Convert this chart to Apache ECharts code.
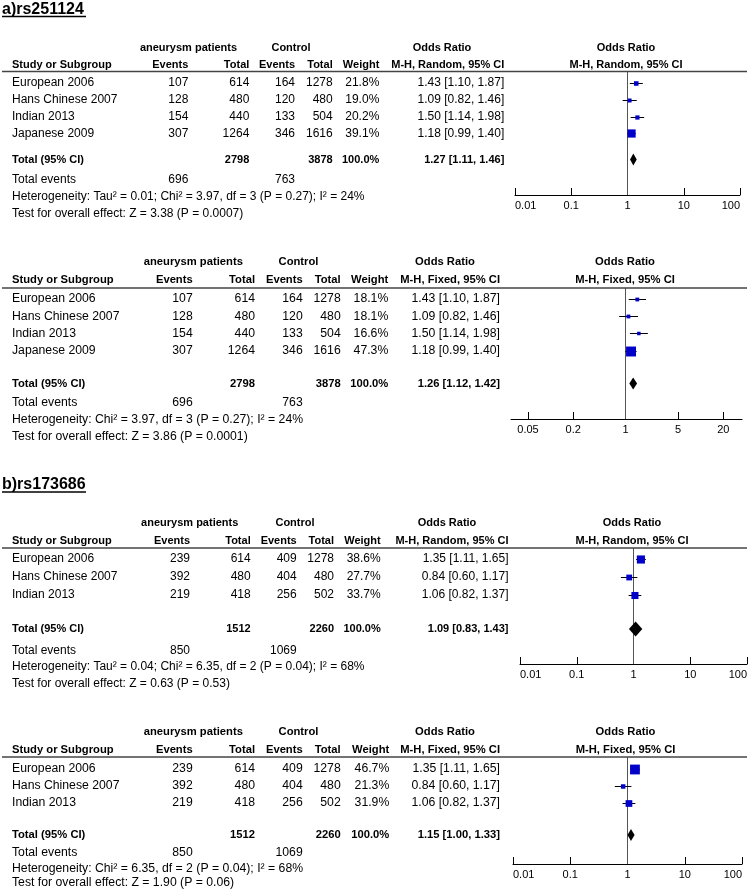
<!DOCTYPE html>
<html><head><meta charset="utf-8">
<script src="https://cdn.jsdelivr.net/npm/echarts@6/dist/echarts.min.js"></script>
<style>html,body{margin:0;padding:0;background:#fff}#c{width:753px;height:891px}</style>
</head><body><div id="c"></div>
<script>
// ---------- data ----------
const studiesA = ['European 2006', 'Hans Chinese 2007', 'Indian 2013', 'Japanese 2009'];
const casesEventsA = [107, 128, 154, 307];
const casesTotalA = [614, 480, 440, 1264];
const controlEventsA = [164, 120, 133, 346];
const controlTotalA = [1278, 480, 504, 1616];
const oddsA = [1.43, 1.09, 1.50, 1.18];
const lowerA = [1.10, 0.82, 1.14, 0.99];
const upperA = [1.87, 1.46, 1.98, 1.40];
const weightRandomA = [21.8, 19.0, 20.2, 39.1];
const weightFixedA = [18.1, 18.1, 16.6, 47.3];
const pooledRandomA = [1.27, 1.11, 1.46];
const pooledFixedA = [1.26, 1.12, 1.42];
const totalsA = [2798, 3878];
const totalEventsA = [696, 763];

const studiesB = ['European 2006', 'Hans Chinese 2007', 'Indian 2013'];
const casesEventsB = [239, 392, 219];
const casesTotalB = [614, 480, 418];
const controlEventsB = [409, 404, 256];
const controlTotalB = [1278, 480, 502];
const oddsB = [1.35, 0.84, 1.06];
const lowerB = [1.11, 0.60, 0.82];
const upperB = [1.65, 1.17, 1.37];
const weightRandomB = [38.6, 27.7, 33.7];
const weightFixedB = [46.7, 21.3, 31.9];
const pooledRandomB = [1.09, 0.83, 1.43];
const pooledFixedB = [1.15, 1.00, 1.33];
const totalsB = [1512, 2260];
const totalEventsB = [850, 1069];

const ticksWide = [0.01, 0.1, 1, 10, 100];
const ticksNarrow = [0.05, 0.2, 1, 5, 20];

const hetTexts = [
  'Heterogeneity: Tau\u00b2 = 0.01; Chi\u00b2 = 3.97, df = 3 (P = 0.27); I\u00b2 = 24%',
  'Heterogeneity: Chi\u00b2 = 3.97, df = 3 (P = 0.27); I\u00b2 = 24%',
  'Heterogeneity: Tau\u00b2 = 0.04; Chi\u00b2 = 6.35, df = 2 (P = 0.04); I\u00b2 = 68%',
  'Heterogeneity: Chi\u00b2 = 6.35, df = 2 (P = 0.04); I\u00b2 = 68%'
];
const testTexts = [
  'Test for overall effect: Z = 3.38 (P = 0.0007)',
  'Test for overall effect: Z = 3.86 (P = 0.0001)',
  'Test for overall effect: Z = 0.63 (P = 0.53)',
  'Test for overall effect: Z = 1.90 (P = 0.06)'
];

// ---------- layout ----------
const panels = [
  { model: 'Random', st: studiesA, ev: casesEventsA, tot: casesTotalA, cev: controlEventsA, ctot: controlTotalA,
    or: oddsA, lo: lowerA, hi: upperA, w: weightRandomA, pooled: pooledRandomA, totals: totalsA, totEv: totalEventsA,
    ticks: ticksWide, min: 0.01, max: 100, edge: true,
    L: { s: 1, lineY: 71.5, h1: 48, h2: 64.5, row0: 83, rowH: 16.8, totalY: 159.5, totEvY: 180, hetY: 197, testY: 213.5,
         axisY: 195, plotL: 515, plotR: 740, cols: [188.3, 249.3, 295, 332.7, 379.3], orR: 504.3,
         aneuX: 188.5, ctrlX: 291, orHead: 442, plotHead: 626, dh: 6 } },
  { model: 'Fixed', st: studiesA, ev: casesEventsA, tot: casesTotalA, cev: controlEventsA, ctot: controlTotalA,
    or: oddsA, lo: lowerA, hi: upperA, w: weightFixedA, pooled: pooledFixedA, totals: totalsA, totEv: totalEventsA,
    ticks: ticksNarrow, min: 0.0297, max: 35.5, edge: false,
    L: { s: 1.02, lineY: 288, h1: 262, h2: 280, row0: 299, rowH: 17.2, totalY: 383.5, totEvY: 403, hetY: 420, testY: 437,
         axisY: 419, plotL: 511, plotR: 742, cols: [192.7, 255, 302.7, 340.7, 388.3], orR: 500,
         aneuX: 193.3, ctrlX: 298.5, orHead: 445, plotHead: 625, dh: 6 } },
  { model: 'Random', st: studiesB, ev: casesEventsB, tot: casesTotalB, cev: controlEventsB, ctot: controlTotalB,
    or: oddsB, lo: lowerB, hi: upperB, w: weightRandomB, pooled: pooledRandomB, totals: totalsB, totEv: totalEventsB,
    ticks: ticksWide, min: 0.01, max: 100, edge: true,
    L: { s: 1, lineY: 548, h1: 522.5, h2: 540.5, row0: 559, rowH: 17.8, totalY: 629, totEvY: 651, hetY: 667, testY: 684,
         axisY: 664, plotL: 520, plotR: 747, cols: [190, 250.7, 296.7, 334, 380.7], orR: 508.5,
         aneuX: 189.7, ctrlX: 295, orHead: 447, plotHead: 632, dh: 7.5 } },
  { model: 'Fixed', st: studiesB, ev: casesEventsB, tot: casesTotalB, cev: controlEventsB, ctot: controlTotalB,
    or: oddsB, lo: lowerB, hi: upperB, w: weightFixedB, pooled: pooledFixedB, totals: totalsB, totEv: totalEventsB,
    ticks: ticksWide, min: 0.01, max: 100, edge: true,
    L: { s: 1.02, lineY: 757, h1: 732, h2: 749.5, row0: 768.5, rowH: 17, totalY: 835, totEvY: 853, hetY: 869, testY: 883,
         axisY: 864, plotL: 513, plotR: 742, cols: [192.7, 255, 302.7, 340.7, 389.3], orR: 500,
         aneuX: 193.3, ctrlX: 298.5, orHead: 445, plotHead: 625.5, dh: 6 } }
];
const titles = [{ text: 'a)rs251124', y: 10, uy: 16.5 }, { text: 'b)rs173686', y: 485, uy: 492 }];

const FONT = '"Liberation Sans", Arial, Helvetica, sans-serif';
const BLUE = '#0000c8';
const graphics = [];
function addText(x, y, text, align, bold, size) {
  graphics.push({
    type: 'text', x: x, y: y, silent: true, z: 10,
    style: { text: String(text), font: (bold ? 'bold ' : '') + size + 'px ' + FONT, fill: '#000',
             align: align, verticalAlign: 'middle', textAlign: align, textVerticalAlign: 'middle' }
  });
}
function addLine(x1, y1, x2, y2, color, lw) {
  graphics.push({ type: 'line', silent: true, z: 9, shape: { x1, y1, x2, y2 }, style: { stroke: color, lineWidth: lw } });
}
const fmt2 = v => v.toFixed(2);
const ciText = (e, l, h) => fmt2(e) + ' [' + fmt2(l) + ', ' + fmt2(h) + ']';

titles.forEach(t => {
  addText(2, t.y, t.text, 'left', true, 16);
  addLine(2, t.uy, 86, t.uy, '#000', 1.6);
});

const grids = [], xAxes = [], yAxes = [], series = [];
panels.forEach((p, k) => {
  const L = p.L;
  const R = 12 * L.s, B = 11 * L.s;
  const rowOf = y => (y - L.lineY) / L.rowH;
  const studyRow = i => rowOf(L.row0) + i;

  // headers
  addText(L.aneuX, L.h1, 'aneurysm patients', 'center', true, B);
  addText(L.ctrlX, L.h1, 'Control', 'center', true, B);
  addText(L.orHead, L.h1, 'Odds Ratio', 'center', true, B);
  addText(L.plotHead, L.h1, 'Odds Ratio', 'center', true, B);
  addText(12, L.h2, 'Study or Subgroup', 'left', true, B);
  addText(L.cols[0], L.h2, 'Events', 'right', true, B);
  addText(L.cols[1], L.h2, 'Total', 'right', true, B);
  addText(L.cols[2], L.h2, 'Events', 'right', true, B);
  addText(L.cols[3], L.h2, 'Total', 'right', true, B);
  addText(L.cols[4], L.h2, 'Weight', 'right', true, B);
  addText(L.orR, L.h2, 'M-H, ' + p.model + ', 95% CI', 'right', true, B);
  addText(L.plotHead, L.h2, 'M-H, ' + p.model + ', 95% CI', 'center', true, B);
  addLine(2, L.lineY, 747, L.lineY, '#444', 1.5);

  // study rows
  p.st.forEach((name, i) => {
    const y = L.lineY + studyRow(i) * L.rowH;
    addText(12, y, name, 'left', false, R);
    addText(L.cols[0], y, p.ev[i], 'right', false, R);
    addText(L.cols[1], y, p.tot[i], 'right', false, R);
    addText(L.cols[2], y, p.cev[i], 'right', false, R);
    addText(L.cols[3], y, p.ctot[i], 'right', false, R);
    addText(L.cols[4], y, p.w[i].toFixed(1) + '%', 'right', false, R);
    addText(L.orR, y, ciText(p.or[i], p.lo[i], p.hi[i]), 'right', false, R);
  });
  // totals
  addText(12, L.totalY, 'Total (95% CI)', 'left', true, B);
  addText(L.cols[1], L.totalY, p.totals[0], 'right', true, B);
  addText(L.cols[3], L.totalY, p.totals[1], 'right', true, B);
  addText(L.cols[4], L.totalY, '100.0%', 'right', true, B);
  addText(L.orR, L.totalY, ciText(p.pooled[0], p.pooled[1], p.pooled[2]), 'right', true, B);
  addText(12, L.totEvY, 'Total events', 'left', false, R);
  addText(L.cols[0], L.totEvY, p.totEv[0], 'right', false, R);
  addText(L.cols[2], L.totEvY, p.totEv[1], 'right', false, R);
  addText(12, L.hetY, hetTexts[k], 'left', false, R);
  addText(12, L.testY, testTexts[k], 'left', false, R);

  // plot
  grids.push({ left: L.plotL, width: L.plotR - L.plotL, top: L.lineY, height: L.axisY - L.lineY, containLabel: false });
  const labelOpt = {
    customValues: p.ticks, color: '#000', fontSize: 11, fontFamily: FONT, margin: 5,
    formatter: v => String(+(+v).toPrecision(3))
  };
  if (p.edge) { labelOpt.alignMinLabel = 'left'; labelOpt.alignMaxLabel = 'right'; }
  xAxes.push({
    gridIndex: k, type: 'log', logBase: 10, min: p.min, max: p.max, position: 'bottom',
    axisLine: { show: true, onZero: false, lineStyle: { color: '#000', width: 1 } },
    axisTick: { show: true, inside: true, length: 7, customValues: p.ticks, lineStyle: { color: '#000', width: 1 } },
    axisLabel: labelOpt,
    splitLine: { show: false }, minorTick: { show: false }, minorSplitLine: { show: false }
  });
  yAxes.push({ gridIndex: k, type: 'value', inverse: true, min: 0, max: rowOf(L.axisY), show: false,
               axisLine: { onZero: false } });

  series.push({
    type: 'custom', xAxisIndex: k, yAxisIndex: k, clip: false,
    data: p.or.map((v, i) => [v, p.lo[i], p.hi[i], studyRow(i), p.w[i]]),
    encode: { x: [0, 1, 2], y: 3 },
    renderItem: function (params, api) {
      const c = api.coord([api.value(0), api.value(3)]);
      const a = api.coord([api.value(1), api.value(3)]);
      const b = api.coord([api.value(2), api.value(3)]);
      const s = 0.21 * api.value(4);
      const yy = Math.round(c[1]) + 0.5;
      return { type: 'group', children: [
        { type: 'line', shape: { x1: a[0], y1: yy, x2: b[0], y2: yy }, style: { stroke: '#000', lineWidth: 1 } },
        { type: 'rect', shape: { x: c[0] - s / 2, y: yy - s / 2, width: s, height: s }, style: { fill: BLUE } }
      ] };
    },
    markLine: {
      silent: true, symbol: ['none', 'none'], label: { show: false }, animation: false,
      lineStyle: { color: '#555', width: 1, type: 'solid' }, emphasis: { disabled: true },
      data: [{ xAxis: 1 }]
    },
    z: 5
  });
  series.push({
    type: 'custom', xAxisIndex: k, yAxisIndex: k, clip: false,
    data: [[p.pooled[0], p.pooled[1], p.pooled[2], rowOf(L.totalY)]],
    encode: { x: [0, 1, 2], y: 3 },
    renderItem: function (params, api) {
      const c = api.coord([api.value(0), api.value(3)]);
      const a = api.coord([api.value(1), api.value(3)]);
      const b = api.coord([api.value(2), api.value(3)]);
      const h = L.dh;
      return { type: 'polygon', shape: { points: [[a[0], c[1]], [c[0], c[1] - h], [b[0], c[1]], [c[0], c[1] + h]] },
               style: { fill: '#000' } };
    },
    z: 6
  });
});

const chart = echarts.init(document.getElementById('c'));
chart.setOption({
  backgroundColor: '#fff',
  animation: false,
  grid: grids, xAxis: xAxes, yAxis: yAxes, series: series,
  graphic: { elements: graphics }
});
</script>
</body></html>
